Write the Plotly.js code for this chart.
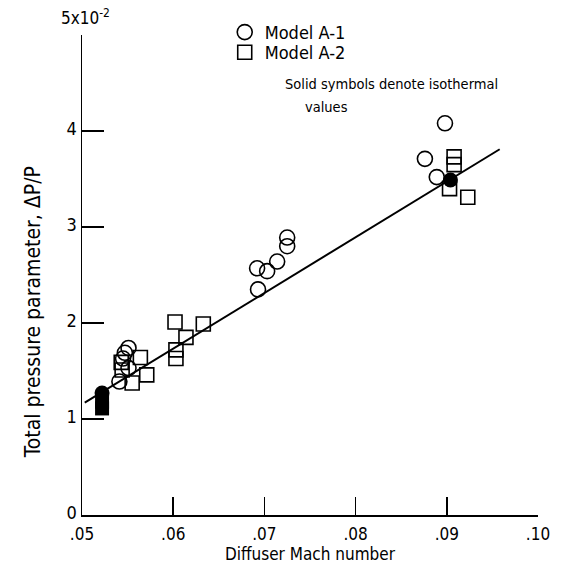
<!DOCTYPE html>
<html>
<head>
<meta charset="utf-8">
<script src="https://cdn.plot.ly/plotly-3.0.1.min.js"></script>
<style>html,body{margin:0;padding:0;background:#fff;}</style>
</head>
<body>
<div id="chart" style="width:582px;height:565px;"></div>
<script>
// Model A-1 (circles), open
const a1X = [0.0551, 0.0547, 0.0545, 0.0551, 0.0541, 0.0725, 0.0725, 0.0714, 0.0703, 0.0692, 0.0693, 0.0898, 0.0876, 0.0889];
const a1Y = [1.74, 1.69, 1.63, 1.53, 1.39, 2.89, 2.80, 2.64, 2.54, 2.57, 2.35, 4.08, 3.71, 3.52];
// Model A-1 solid (isothermal)
const a1sX = [0.0522, 0.0904];
const a1sY = [1.27, 3.49];
// Model A-2 (squares), open
const a2X = [0.0543, 0.0564, 0.0544, 0.0555, 0.0571, 0.0602, 0.0633, 0.0614, 0.0603, 0.0603, 0.0908, 0.0908, 0.0903, 0.0923];
const a2Y = [1.59, 1.64, 1.51, 1.375, 1.46, 2.01, 1.99, 1.85, 1.72, 1.63, 3.73, 3.65, 3.40, 3.31];
// Model A-2 solid (isothermal)
const a2sX = [0.0522, 0.0522];
const a2sY = [1.18, 1.11];
// Fitted line
const fitX = [0.0503, 0.0958];
const fitY = [1.17, 3.81];
// Ticks
const xTickVals = [0.05, 0.06, 0.07, 0.08, 0.09, 0.10];
const xTickText = ['.05', '.06', '.07', '.08', '.09', '.10'];
const yTickVals = [0, 1, 2, 3, 4, 5];
const yTickText = ['0', '1', '2', '3', '4', ''];

const FONT = 'DejaVu Sans Condensed, Liberation Sans Narrow, sans-serif';

const traces = [
  {x: fitX, y: fitY, mode: 'lines', line: {color: '#000', width: 2}, showlegend: false, hoverinfo: 'skip'},
  {x: a1X, y: a1Y, mode: 'markers', name: 'Model A-1', legend: 'legend',
   marker: {symbol: 'circle-open', size: 15, color: '#000', line: {width: 1.6, color: '#000'}}},
  {x: a2X, y: a2Y, mode: 'markers', name: 'Model A-2', legend: 'legend2',
   marker: {symbol: 'square-open', size: 14, color: '#000', line: {width: 1.6, color: '#000'}}},
  {x: a1sX, y: a1sY, mode: 'markers', showlegend: false,
   marker: {symbol: 'circle', size: 15, color: '#000'}},
  {x: a2sX, y: a2sY, mode: 'markers', showlegend: false,
   marker: {symbol: 'square', size: 14, color: '#000'}}
];

const legendFont = {family: FONT, size: 18, color: '#000'};

const layout = {
  width: 582, height: 565,
  margin: {l: 82, r: 44, t: 35, b: 50},
  paper_bgcolor: '#fff', plot_bgcolor: '#fff',
  font: {family: FONT, size: 17, color: '#000'},
  showlegend: true,
  legend: {x: 0.313, y: 1.044, xanchor: 'left', yanchor: 'top', bgcolor: 'rgba(0,0,0,0)', font: legendFont},
  legend2: {x: 0.313, y: 1.002, xanchor: 'left', yanchor: 'top', bgcolor: 'rgba(0,0,0,0)', font: legendFont},
  xaxis: {
    range: [0.05, 0.10], tickvals: xTickVals, ticktext: xTickText,
    ticks: 'inside', ticklen: 18, tickwidth: 1.5, tickcolor: '#000',
    showline: true, linewidth: 1.5, linecolor: '#000',
    showgrid: false, zeroline: false,
    tickfont: {family: FONT, size: 17}, ticklabelstandoff: 3,
    title: {text: 'Diffuser Mach number', font: {family: FONT, size: 17}, standoff: 2}
  },
  yaxis: {
    range: [0, 5], tickvals: yTickVals, ticktext: yTickText,
    ticks: 'inside', ticklen: 22, tickwidth: 1.5, tickcolor: '#000',
    showline: true, linewidth: 1.5, linecolor: '#000',
    showgrid: false, zeroline: false, ticklabelshift: -2,
    tickfont: {family: FONT, size: 18}
  },
  annotations: [
    {xref: 'paper', yref: 'paper', x: -0.107, y: 0.423, xanchor: 'center', yanchor: 'middle', textangle: -90,
     text: 'Total pressure parameter, \u0394P/P', showarrow: false, font: {family: FONT, size: 21}},
    {xref: 'paper', yref: 'paper', x: 0.441, y: 0.898, xanchor: 'left', yanchor: 'middle',
     text: 'Solid symbols denote isothermal', showarrow: false, font: {family: FONT, size: 14.5}},
    {xref: 'paper', yref: 'paper', x: 0.485, y: 0.85, xanchor: 'left', yanchor: 'middle',
     text: 'values', showarrow: false, font: {family: FONT, size: 14.5}},
    {xref: 'paper', yref: 'paper', x: -0.05, y: 1.01, xanchor: 'left', yanchor: 'bottom',
     text: '5x10<sup>-2</sup>', showarrow: false, font: {family: FONT, size: 17}}
  ]
};

Plotly.newPlot('chart', traces, layout, {staticPlot: true, displayModeBar: false});
</script>
</body>
</html>
